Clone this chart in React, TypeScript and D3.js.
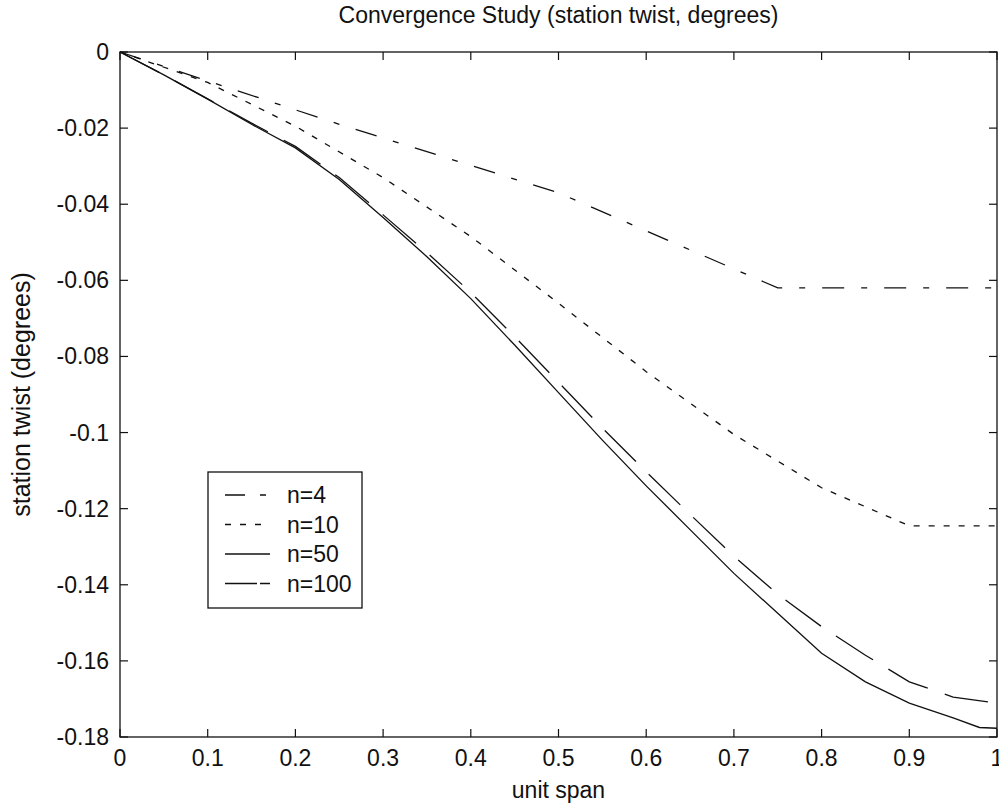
import React from "react";
import * as d3 from "d3";

// ---- data ----
const xN4 = [0, 0.25, 0.5, 0.75, 1.0];
const yN4 = [0, -0.019, -0.037, -0.062, -0.062];

const xN10 = [0, 0.1, 0.2, 0.3, 0.4, 0.5, 0.6, 0.7, 0.8, 0.9, 1.0];
const yN10 = [0, -0.008, -0.0195, -0.033, -0.0485, -0.066, -0.084, -0.1005, -0.1145, -0.1245, -0.1245];

const xN50 = [0, 0.05, 0.1, 0.15, 0.2, 0.25, 0.3, 0.35, 0.4, 0.45, 0.5, 0.55, 0.6, 0.65, 0.7, 0.75, 0.8, 0.85, 0.9, 0.95, 0.98, 1.0];
const yN50 = [0, -0.006, -0.0124, -0.019, -0.0252, -0.0335, -0.0435, -0.0538, -0.0648, -0.077, -0.0895, -0.102, -0.114, -0.1255, -0.137, -0.1475, -0.158, -0.1655, -0.1711, -0.175, -0.1775, -0.1777];

const xN100 = [0, 0.05, 0.1, 0.15, 0.2, 0.25, 0.3, 0.35, 0.4, 0.45, 0.5, 0.55, 0.6, 0.65, 0.7, 0.75, 0.8, 0.85, 0.9, 0.95, 0.99, 1.0];
const yN100 = [0, -0.006, -0.0123, -0.0187, -0.0248, -0.033, -0.0428, -0.0527, -0.0632, -0.0748, -0.0868, -0.0988, -0.1103, -0.1215, -0.1325, -0.1425, -0.151, -0.1585, -0.1655, -0.1695, -0.1708, -0.1708];

const seriesNames = ["n=4", "n=10", "n=50", "n=100"];
const xTicks = [0, 0.1, 0.2, 0.3, 0.4, 0.5, 0.6, 0.7, 0.8, 0.9, 1];
const yTicks = [0, -0.02, -0.04, -0.06, -0.08, -0.1, -0.12, -0.14, -0.16, -0.18];

const title = "Convergence Study (station twist, degrees)";
const xLabel = "unit span";
const yLabel = "station twist (degrees)";

// ---- styles ----
const W = 999;
const H = 812;
const M = { left: 120, right: 997, top: 52, bottom: 737 };
const FONT = "'Liberation Sans', Arial, Helvetica, sans-serif";
const FS = 23;
const dashes = ["22 17 6 17", "6 9", "none", "44 18"];
const legendDashes = ["20 15 6 15", "6 9", "none", "32 3"];

export default function App() {
  const x = d3.scaleLinear().domain([0, 1]).range([M.left, M.right]);
  const y = d3.scaleLinear().domain([-0.18, 0]).range([M.bottom, M.top]);

  const series = [
    { name: seriesNames[0], xs: xN4, ys: yN4 },
    { name: seriesNames[1], xs: xN10, ys: yN10 },
    { name: seriesNames[2], xs: xN50, ys: yN50 },
    { name: seriesNames[3], xs: xN100, ys: yN100 },
  ];

  const line = d3
    .line<[number, number]>()
    .x((d) => x(d[0]))
    .y((d) => y(d[1]));

  const fmt = (v: number) => String(+v.toFixed(2));
  const tickLen = 8;

  const legend = { x: 208, y: 472, w: 154, h: 136, rowH: 29.5, first: 495 };

  return (
    <svg
      width={W}
      height={H}
      style={{ position: "absolute", left: 0, top: 0, background: "#fff" }}
      fontFamily={FONT}
    >
      <rect x={0} y={0} width={W} height={H} fill="#fff" />
      {/* title */}
      <text x={(M.left + M.right) / 2} y={23} textAnchor="middle" fontSize={FS} fill="#111">
        {title}
      </text>

      {/* data lines */}
      <g fill="none" stroke="#111" strokeWidth={1.3}>
        {series.map((s, i) => (
          <path
            key={s.name}
            d={line(s.xs.map((xv, j) => [xv, s.ys[j]] as [number, number])) || ""}
            strokeDasharray={dashes[i] === "none" ? undefined : dashes[i]}
          />
        ))}
      </g>

      {/* axes box */}
      <rect
        x={M.left}
        y={M.top}
        width={M.right - M.left}
        height={M.bottom - M.top}
        fill="none"
        stroke="#111"
        strokeWidth={1.3}
      />

      {/* ticks */}
      <g stroke="#111" strokeWidth={1.2}>
        {xTicks.map((t) => (
          <g key={"xt" + t}>
            <line x1={x(t)} x2={x(t)} y1={M.bottom} y2={M.bottom - tickLen} />
            <line x1={x(t)} x2={x(t)} y1={M.top} y2={M.top + tickLen} />
          </g>
        ))}
        {yTicks.map((t) => (
          <g key={"yt" + t}>
            <line x1={M.left} x2={M.left + tickLen} y1={y(t)} y2={y(t)} />
            <line x1={M.right} x2={M.right - tickLen} y1={y(t)} y2={y(t)} />
          </g>
        ))}
      </g>
      <g fontSize={FS} fill="#111">
        {xTicks.map((t) => (
          <text key={"xl" + t} x={x(t)} y={M.bottom + 29} textAnchor="middle">
            {fmt(t)}
          </text>
        ))}
        {yTicks.map((t) => (
          <text key={"yl" + t} x={M.left - 11} y={y(t)} dy="0.35em" textAnchor="end">
            {fmt(t)}
          </text>
        ))}
      </g>

      {/* axis labels */}
      <text x={(M.left + M.right) / 2} y={M.bottom + 61} textAnchor="middle" fontSize={FS} fill="#111">
        {xLabel}
      </text>
      <text
        transform={`translate(30, ${(M.top + M.bottom) / 2}) rotate(-90)`}
        textAnchor="middle"
        fontSize={25}
        fill="#111"
      >
        {yLabel}
      </text>

      {/* legend */}
      <rect
        x={legend.x}
        y={legend.y}
        width={legend.w}
        height={legend.h}
        fill="#fff"
        stroke="#111"
        strokeWidth={1.3}
      />
      {series.map((s, i) => {
        const cy = legend.first + i * legend.rowH;
        return (
          <g key={"lg" + s.name}>
            <line
              x1={225}
              x2={270}
              y1={cy}
              y2={cy}
              stroke="#111"
              strokeWidth={1.3}
              strokeDasharray={legendDashes[i] === "none" ? undefined : legendDashes[i]}
            />
            <text x={287} y={cy} dy="0.35em" fontSize={FS} fill="#111">
              {s.name}
            </text>
          </g>
        );
      })}
    </svg>
  );
}
